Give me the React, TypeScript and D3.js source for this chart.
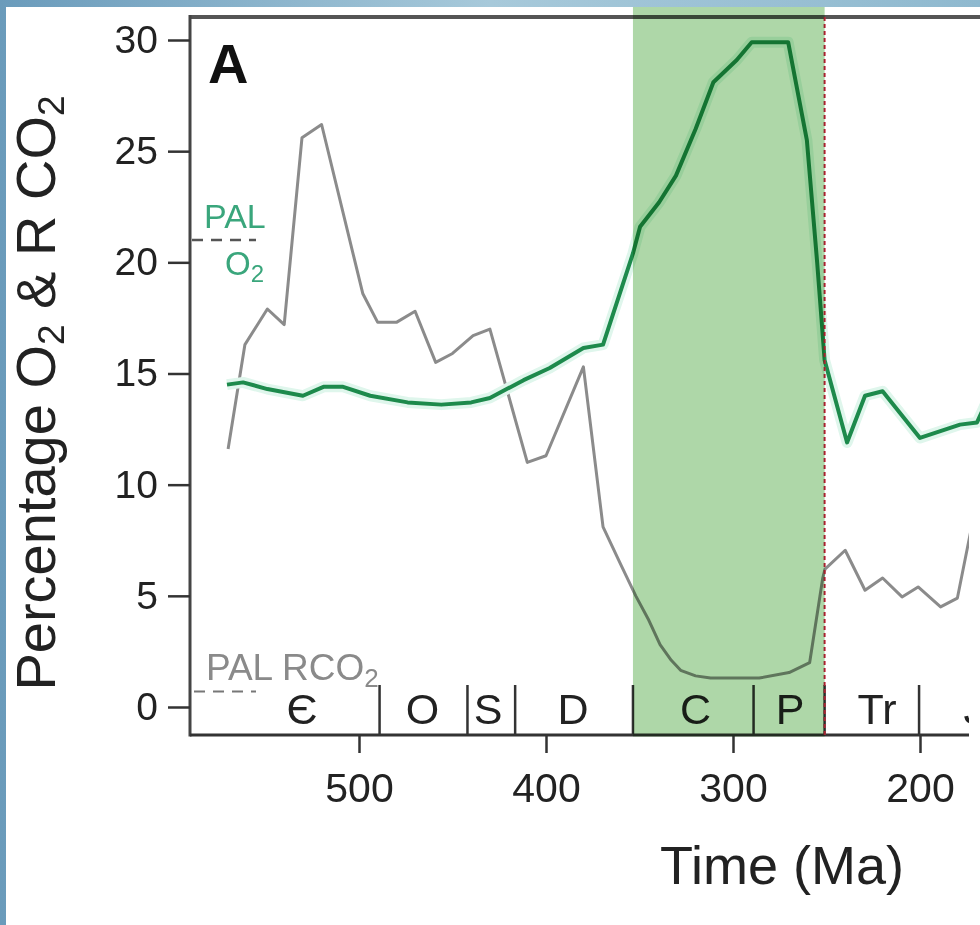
import * as d3 from "d3"
import React, { useEffect, useRef } from "react"

const W = 980
const H = 925
const FONT = "'Liberation Sans', Arial, Helvetica, sans-serif"

// grey curve: R CO2, [age Ma, value]
const co2Data: [number, number][] = [
  [570, 11.6], [561, 16.3], [549, 17.9], [540, 17.2], [530.5, 25.6], [520, 26.2],
  [498, 18.6], [490, 17.3], [480, 17.3], [470, 17.8], [459, 15.5], [450, 15.9],
  [439, 16.7], [430, 17.0], [410, 11.0], [400, 11.3], [380, 15.3], [369.5, 8.1],
  [360, 6.4], [352, 5.0], [345, 3.9], [339, 2.8], [333, 2.1], [328, 1.65],
  [320, 1.4], [312, 1.3], [286, 1.3], [270, 1.55], [259, 2.0], [252, 5.8],
  [250.8, 6.2], [240, 7.05], [229.4, 5.25], [220, 5.8], [209.6, 4.95], [201, 5.4],
  [189, 4.5], [180, 4.9], [171.7, 8.4], [165, 8.6],
]

// green curve: percentage O2
const o2Data: [number, number][] = [
  [570.6, 14.5], [562, 14.6], [549, 14.3], [530, 14.0], [519, 14.4], [508.5, 14.4],
  [494, 14.0], [474, 13.7], [456, 13.6], [440, 13.7], [430, 13.9], [412, 14.7],
  [398, 15.25], [380, 16.15], [369.5, 16.3], [353.5, 20.4], [349.7, 21.6],
  [339.5, 22.7], [330.5, 23.9], [320, 26.0], [310.5, 28.1], [298, 29.1],
  [290, 29.9], [270.5, 29.9], [260.5, 25.5], [255, 20.0], [251, 15.6],
  [239, 11.9], [229.4, 14.0], [220, 14.2], [200, 12.1], [178.6, 12.7],
  [169.5, 12.8], [163, 14.0],
]

const yTicks = [0, 5, 10, 15, 20, 25, 30]
const xTicks = [500, 400, 300, 200]

const periodBounds = [489, 442, 416.5, 353.5, 289, 251, 200.5]
const periodNames = ["Є", "O", "S", "D", "C", "P", "Tr", "J"]
const periodMids = [530.5, 466, 431, 385.5, 320, 269.5, 223, 171]

const shadeRange = [353.5, 251]
const extinction = 251
const palO2 = 21
const palRCO2 = 0.7

const Chart = () => {
  const ref = useRef<SVGSVGElement>(null)

  useEffect(() => {
    const svg = d3.select(ref.current)
    svg.selectAll("*").remove()

    const left = 190
    const top = 17
    const bottom = 735

    const x = d3.scaleLinear().domain([500, 200]).range([359, 920])
    const y = d3.scaleLinear().domain([0, 30]).range([707, 40])

    // page background (blue photo edge)
    const defs = svg.append("defs")
    const grad = defs.append("linearGradient").attr("id", "bg").attr("x1", 0).attr("x2", 1)
    grad.append("stop").attr("offset", "0%").attr("stop-color", "#6a9bbb")
    grad.append("stop").attr("offset", "50%").attr("stop-color", "#a7c9da")
    grad.append("stop").attr("offset", "100%").attr("stop-color", "#8fb9cf")
    svg.append("rect").attr("width", W).attr("height", H).attr("fill", "url(#bg)")
    svg.append("rect").attr("x", 6).attr("y", 7).attr("width", W - 6).attr("height", H - 7).attr("fill", "#fff")

    // reference levels
    svg.append("line")
      .attr("x1", left + 2).attr("x2", 256)
      .attr("y1", y(palO2)).attr("y2", y(palO2))
      .attr("stroke", "#555").attr("stroke-width", 2.5).attr("stroke-dasharray", "11,8")
    svg.append("line")
      .attr("x1", left + 4).attr("x2", 256)
      .attr("y1", y(palRCO2)).attr("y2", y(palRCO2))
      .attr("stroke", "#777").attr("stroke-width", 2).attr("stroke-dasharray", "11,8")

    const palText = svg.append("g").attr("font-family", FONT).attr("fill", "#3aa67c")
    palText.append("text").attr("x", 204).attr("y", 228).attr("font-size", 34).text("PAL")
    const o2t = palText.append("text").attr("x", 225).attr("y", 275).attr("font-size", 33)
    o2t.append("tspan").text("O")
    o2t.append("tspan").attr("dy", 7).attr("font-size", 24).text("2")

    const rt = svg.append("text").attr("x", 206).attr("y", 680)
      .attr("font-family", FONT).attr("font-size", 37).attr("fill", "#8a8a8a")
    rt.append("tspan").text("PAL RCO")
    rt.append("tspan").attr("dy", 7).attr("font-size", 26).text("2")

    // lines
    const line = d3.line<[number, number]>()
      .x((d) => x(d[0]))
      .y((d) => y(d[1]))

    svg.append("path").datum(co2Data)
      .attr("fill", "none").attr("stroke", "#8b8b8b").attr("stroke-width", 3)
      .attr("stroke-linejoin", "round").attr("d", line)

    svg.append("path").datum(o2Data)
      .attr("fill", "none").attr("stroke", "#dff6ec").attr("stroke-width", 11)
      .attr("stroke-linejoin", "round").attr("d", line)
    svg.append("path").datum(o2Data)
      .attr("fill", "none").attr("stroke", "#1d8a4c").attr("stroke-width", 4)
      .attr("stroke-linejoin", "round").attr("d", line)

    // period boundaries and names
    const per = svg.append("g")
    per.selectAll("line").data(periodBounds).join("line")
      .attr("x1", (d) => x(d)).attr("x2", (d) => x(d))
      .attr("y1", bottom - 50).attr("y2", bottom)
      .attr("stroke", "#333").attr("stroke-width", 2.5)
    per.selectAll("text").data(periodNames).join("text")
      .attr("x", (d, i) => x(periodMids[i]))
      .attr("y", 724)
      .attr("text-anchor", "middle")
      .attr("font-family", FONT).attr("font-size", 43).attr("fill", "#222")
      .text((d) => d)

    // frame
    svg.append("line").attr("x1", left).attr("x2", W).attr("y1", top).attr("y2", top)
      .attr("stroke", "#555").attr("stroke-width", 4)
    svg.append("line").attr("x1", left).attr("x2", left).attr("y1", top - 2).attr("y2", bottom + 1.5)
      .attr("stroke", "#444").attr("stroke-width", 3)
    svg.append("line").attr("x1", left).attr("x2", W).attr("y1", bottom).attr("y2", bottom)
      .attr("stroke", "#333").attr("stroke-width", 3)

    // axes
    const yAxis = svg.append("g")
      .attr("transform", "translate(" + left + ",0)")
      .call(d3.axisLeft(y).tickValues(yTicks).tickSize(22).tickPadding(10))
    yAxis.select(".domain").remove()
    yAxis.selectAll("line").attr("stroke", "#333").attr("stroke-width", 2.5)
    yAxis.selectAll("text").attr("font-family", FONT).attr("font-size", 39).attr("fill", "#222")

    const xAxis = svg.append("g")
      .attr("transform", "translate(0," + bottom + ")")
      .call(d3.axisBottom(x).tickValues(xTicks).tickSize(18).tickPadding(20))
    xAxis.select(".domain").remove()
    xAxis.selectAll("line").attr("stroke", "#333").attr("stroke-width", 2.5)
    xAxis.selectAll("text").attr("font-family", FONT).attr("font-size", 41).attr("fill", "#222")

    // extinction line
    svg.append("line")
      .attr("x1", x(extinction)).attr("x2", x(extinction))
      .attr("y1", top).attr("y2", bottom)
      .attr("stroke", "#c8283c").attr("stroke-width", 2).attr("stroke-dasharray", "4,3")

    // Carboniferous-Permian band
    svg.append("rect")
      .attr("x", x(shadeRange[0])).attr("y", top - 10)
      .attr("width", x(shadeRange[1]) - x(shadeRange[0]))
      .attr("height", bottom + 1.5 - (top - 10))
      .attr("fill", "#aed7a8")
      .style("mix-blend-mode", "multiply")

    // overlapping photo edge at right
    svg.append("rect").attr("x", 969).attr("y", 516).attr("width", 11).attr("height", H - 516).attr("fill", "#fff")

    // titles
    svg.append("text").attr("x", 208).attr("y", 83)
      .attr("font-family", FONT).attr("font-size", 56).attr("font-weight", "bold").attr("fill", "#111")
      .text("A")

    svg.append("text").attr("x", 782).attr("y", 884).attr("text-anchor", "middle")
      .attr("font-family", FONT).attr("font-size", 54).attr("fill", "#222")
      .text("Time (Ma)")

    const yl = svg.append("text")
      .attr("transform", "translate(55,393) rotate(-90)")
      .attr("text-anchor", "middle")
      .attr("font-family", FONT).attr("font-size", 56).attr("fill", "#222")
    yl.append("tspan").text("Percentage O")
    yl.append("tspan").attr("dy", 9).attr("font-size", 37).text("2")
    yl.append("tspan").attr("dy", -9).text(" & R CO")
    yl.append("tspan").attr("dy", 9).attr("font-size", 37).text("2")
  }, [])

  return (
    <svg
      ref={ref}
      width={W}
      height={H}
      viewBox={`0 0 ${W} ${H}`}
      style={{ position: "absolute", left: 0, top: 0, display: "block" }}
    />
  )
}

export default function App() {
  return <Chart />
}
